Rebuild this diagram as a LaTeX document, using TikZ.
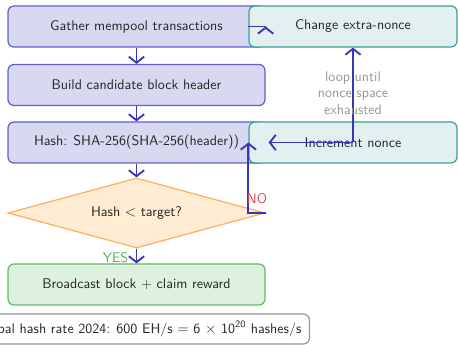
\documentclass[tikz,border=0pt]{standalone}
\usetikzlibrary{arrows.meta,shapes.geometric}
\definecolor{bblue}{RGB}{95,95,205}
\definecolor{fblue}{RGB}{216,216,240}
\definecolor{bteal}{RGB}{60,160,150}
\definecolor{fteal}{RGB}{226,240,240}
\definecolor{borange}{RGB}{255,175,90}
\definecolor{forange}{RGB}{255,236,210}
\definecolor{bgreen}{RGB}{100,185,100}
\definecolor{fgreen}{RGB}{222,240,222}
\definecolor{arrblue}{RGB}{55,55,185}
\definecolor{nored}{RGB}{220,70,80}
\definecolor{yesgreen}{RGB}{80,180,80}
\definecolor{loopgrey}{RGB}{150,150,150}
\begin{document}
\begin{tikzpicture}[
  x=0.75pt, y=-0.75pt,
  txt/.style={font=\sffamily\fontsize{10.5}{12.6}\selectfont, text=black!85},
  base/.style={txt, draw, line width=0.9pt, rounded corners=4.5pt, inner sep=0pt},
  stepbox/.style={base, draw=bblue, fill=fblue, minimum width=192.75pt, minimum height=30.75pt},
  loopbox/.style={base, draw=bteal, fill=fteal, minimum width=156pt, minimum height=30.75pt},
  decbox/.style={txt, shape=diamond, shape aspect=3.67, draw=borange, fill=forange, line width=0.9pt, inner sep=0pt, minimum width=192.75pt, minimum height=52.5pt},
  okbox/.style={base, draw=bgreen, fill=fgreen, minimum width=192.75pt, minimum height=30.75pt},
  notebox/.style={base, draw=loopgrey, fill=white, minimum height=22.5pt, inner xsep=6pt},
  arr/.style={draw=arrblue, line width=1.4pt, -{Straight Barb[length=4.5pt,width=11.5pt]}},
  lbl/.style={font=\sffamily\fontsize{10.5}{12.6}\selectfont, inner sep=0pt}
]
\useasboundingbox (0,0) rectangle (458,345);
\node[stepbox] (gather) at (136.5,26.5) {Gather mempool transactions};
\node[stepbox] (build) at (136.5,85) {Build candidate block header};
\node[stepbox] (hash) at (136.5,142.5) {Hash: SHA-256(SHA-256(header))};
\node[decbox] (dec) at (136.5,213) {Hash $<$ target?};
\node[okbox] (bcast) at (136.5,284.5) {Broadcast block + claim reward};
\node[loopbox] (ext) at (353,26.5) {Change extra-nonce};
\node[loopbox] (inc) at (353,142.5) {Increment nonce};
\node[notebox, anchor=east] (note) at (310,329) {Global hash rate 2024: 600 EH/s $=$ 6 $\times$ 10\textsuperscript{20} hashes/s};

\draw[arr] (gather) -- (build);
\draw[arr] (build) -- (hash);
\draw[arr] (hash) -- (dec);
\draw[arr] (dec) -- node[lbl, text=yesgreen, anchor=east, xshift=-5.5pt, yshift=-1pt] {YES} (bcast);
\draw[arr] (dec.east) -| node[lbl, text=nored, pos=0.25, above=6pt] {NO} (inc.west);
\draw[arr, shorten >=2.25pt] (inc.center) -- (hash.east);
\draw[arr] (inc.center) -- node[lbl, text=loopgrey, align=center, pos=0.52] {loop until\\nonce space\\exhausted} (ext.south);
\draw[draw=arrblue, line width=1.4pt] (ext.west) -- (gather.east);
\draw[arr] ([yshift=-0.02pt]gather.east) -- (gather.east);
\end{tikzpicture}
\end{document}
